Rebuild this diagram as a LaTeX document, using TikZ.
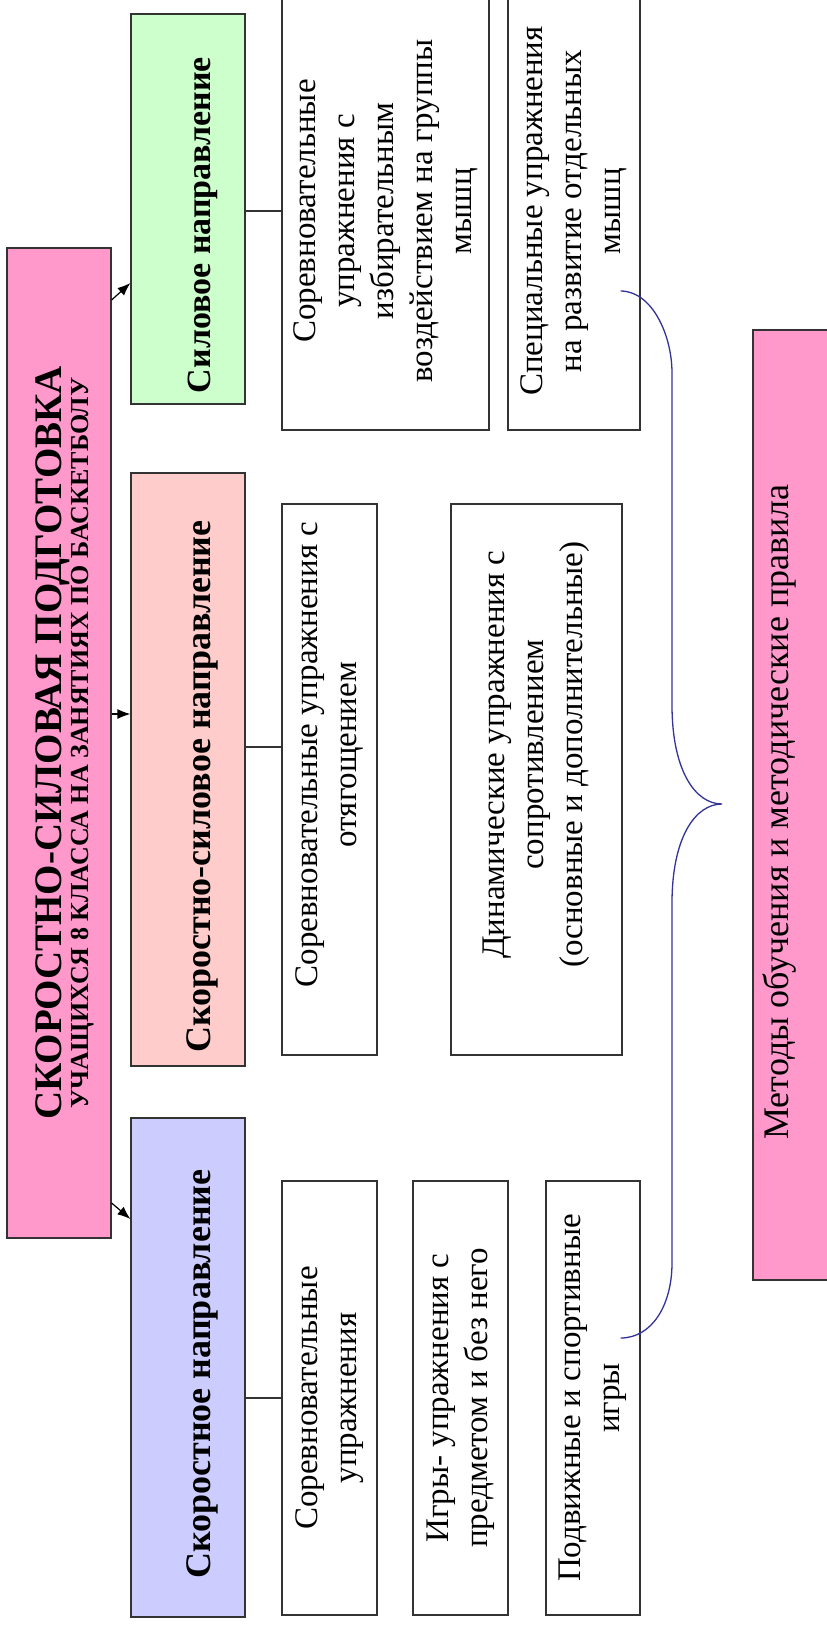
\documentclass[tikz,border=0pt]{standalone}
\usepackage{fontspec}
\setmainfont{Liberation Serif}
\usetikzlibrary{arrows.meta,calc}

\definecolor{pinkfill}{HTML}{FF99CC}
\definecolor{rosefill}{HTML}{FFCCCC}
\definecolor{greenfill}{HTML}{CCFFCC}
\definecolor{lilacfill}{HTML}{CCCCFF}
\definecolor{boxline}{HTML}{333333}
\definecolor{bracecol}{HTML}{333399}

\tikzstyle{titlebox}=[draw=boxline, line width=1.2pt, fill=pinkfill, rotate=90, inner sep=0pt, align=center]
\tikzstyle{headbox}=[draw=boxline, line width=1.2pt, rotate=90, inner sep=0pt, minimum height=114pt, text height=52pt, text depth=8pt, font=\fontsize{36}{40}\selectfont\bfseries]
\tikzstyle{itembox}=[draw=boxline, line width=1.2pt, fill=white, rotate=90, inner sep=0pt, align=center, font=\fontsize{33}{39}\selectfont]
\tikzstyle{com}=[line width=1.2pt, -{Latex[length=13pt,width=10pt]}]
\tikzstyle{link}=[draw=boxline, line width=1.2pt]
\tikzstyle{brace}=[draw=bracecol, line width=1.3pt]

\begin{document}
\begin{tikzpicture}[x=1pt, y=-1pt]
      \useasboundingbox (0,0) rectangle (827,1625);
      \fill[white] (0,0) rectangle (827,1625);
      \clip (0,0) rectangle (827,1625);

      \node[titlebox, minimum width=990pt, minimum height=104pt] (title) at (59,743)
        {{\fontsize{39}{30}\selectfont\bfseries\rule{0pt}{38pt}СКОРОСТНО-СИЛОВАЯ ПОДГОТОВКА}\\
         {\fontsize{26}{30}\selectfont\bfseries УЧАЩИХСЯ 8 КЛАССА НА ЗАНЯТИЯХ ПО БАСКЕТБОЛУ}};

      \node[headbox, fill=greenfill, minimum width=390pt, font=\fontsize{34}{40}\selectfont\bfseries] (power) at (188,209)
        {Силовое направление\hspace*{32pt}};
      \node[headbox, fill=rosefill, minimum width=593pt] (speedpower) at (188,769.5)
        {Скоростно-силовое направление\hspace*{34pt}};
      \node[headbox, fill=lilacfill, minimum width=499pt] (speed) at (188,1367.5)
        {Скоростное направление\hspace*{13pt}};

      \draw[com] (title.south |- 0,300) -- (power.north |- 0,283);
      \draw[com] (title.south |- 0,714) -- (speedpower.north |- 0,714);
      \draw[com] (title.south |- 0,1203) -- (speed.north |- 0,1219);

      \node[itembox, minimum width=438pt, minimum height=207pt] (pw1) at (385.5,211)
        {Соревновательные\\ упражнения с\\ избирательным\\ воздействием на группы\\ мышц};
      \node[itembox, minimum width=438pt, minimum height=132pt] (pw2) at (574,211)
        {Специальные упражнения\\ на развитие отдельных\\ мышц};
      \node[itembox, minimum width=551pt, minimum height=95pt] (sp1) at (329.5,779.5)
        {\hspace*{50pt}Соревновательные упражнения с\\ \hspace*{50pt}отягощением};
      \node[itembox, minimum width=551pt, minimum height=171pt] (sp2) at (536.5,779.5)
        {\hspace*{50pt}Динамические  упражнения с\\ \hspace*{50pt}сопротивлением\\ \hspace*{50pt}(основные и дополнительные)};
      \node[itembox, minimum width=434pt, minimum height=95pt] (s1) at (329.5,1398)
        {Соревновательные\\ упражнения};
      \node[itembox, minimum width=434pt, minimum height=95pt] (s2) at (460.5,1398)
        {Игры- упражнения с\\ предметом и без него};
      \node[itembox, minimum width=434pt, minimum height=94pt] (s3) at (593,1398)
        {Подвижные и спортивные\\ игры};

      \draw[link] (power.south |- 0,211) -- (pw1.north |- 0,211);
      \draw[link] (speedpower.south |- 0,747) -- (sp1.north |- 0,747);
      \draw[link] (speed.south |- 0,1398) -- (s1.north |- 0,1398);

      \node[titlebox, minimum width=950pt, minimum height=87pt] (methods) at (796.5,805) {};
      \node[rotate=90, inner sep=0pt, font=\fontsize{36}{40}\selectfont] (methtext) at (779,812)
        {Методы обучения и методические правила};

      \coordinate (bracetop) at ($(pw2.south)+(-20,80)$);
      \coordinate (bracebot) at ($(s3.south)+(-20,-60)$);
      \coordinate (bracetip) at (722,804);
      \draw[brace] (bracetop) .. controls (652,291) and (672,335) .. (672,373) -- (672,705)
        .. controls (672,770) and (695,804) .. (bracetip)
        .. controls (695,804) and (672,838) .. (672,903) -- (672,1263)
        .. controls (672,1305) and (652,1338) .. (bracebot);
\end{tikzpicture}
\end{document}
